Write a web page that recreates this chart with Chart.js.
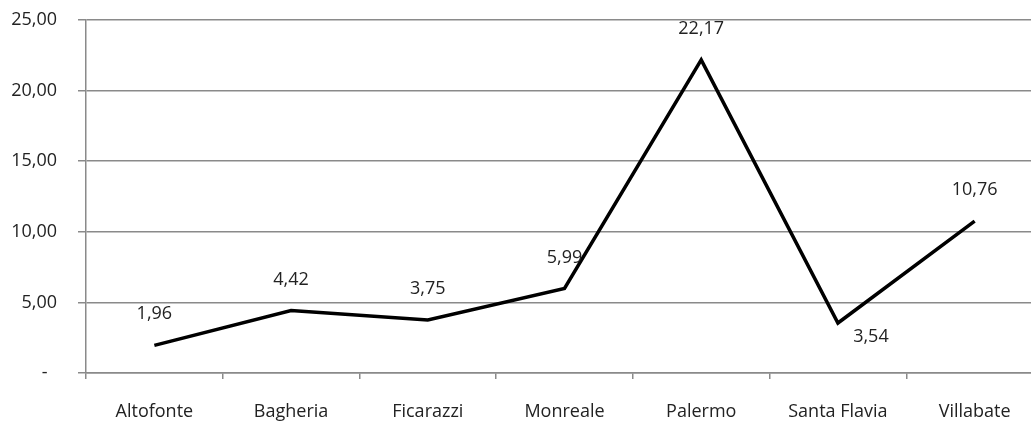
<!DOCTYPE html>
<html>
<head>
<meta charset="utf-8">
<script src="https://cdn.jsdelivr.net/npm/chart.js@4"></script>
<style>
    html, body { margin: 0; padding: 0; background: #fff; overflow: hidden; }
    #wrap { width: 1031px; height: 422px; overflow: hidden; }
</style>
</head>
<body>
<div id="wrap"><canvas id="lineChart" width="1043" height="422"></canvas></div>
<script>
const comuni = ["Altofonte", "Bagheria", "Ficarazzi", "Monreale", "Palermo", "Santa Flavia", "Villabate"];
const valori = [1.96, 4.42, 3.75, 5.99, 22.17, 3.54, 10.76];
const yTicks = [0, 5, 10, 15, 20, 25];

const FONT = "'Open Sans', sans-serif";
const GRID = "#8a8a8a";

function formatIt(v) {
    return v.toFixed(2).replace(".", ",");
}

// etichette dei valori sopra i punti (Santa Flavia sotto, a destra)
const valueLabels = {
    id: "valueLabels",
    afterDatasetsDraw(chart) {
        const ctx = chart.ctx;
        const meta = chart.getDatasetMeta(0);
        ctx.save();
        ctx.font = "18px " + FONT;
        ctx.fillStyle = "#222";
        ctx.textAlign = "center";
        ctx.textBaseline = "middle";
        meta.data.forEach((pt, i) => {
            let dx = 0, dy = -31;
            if (comuni[i] === "Santa Flavia") { dx = 33; dy = 14; }
            ctx.fillText(formatIt(valori[i]), pt.x + dx, pt.y + dy);
        });
        ctx.restore();
    }
};

new Chart(document.getElementById("lineChart").getContext("2d"), {
    type: "line",
    data: {
        labels: comuni,
        datasets: [{
            data: valori,
            borderColor: "#000",
            borderWidth: 3.5,
            pointRadius: 0,
            tension: 0,
            fill: false
        }]
    },
    options: {
        responsive: false,
        animation: false,
        layout: { padding: { top: 20, right: 0, left: 0, bottom: 0 } },
        plugins: {
            legend: { display: false },
            tooltip: { enabled: false }
        },
        scales: {
            x: {
                offset: true,
                grid: { offset: true, drawOnChartArea: false, color: GRID, lineWidth: 1.5, tickLength: 6 },
                border: { color: GRID, width: 1.5 },
                ticks: { color: "#222", padding: 22, font: { family: FONT, size: 18 } },
                afterFit: s => { s.height = 49; s.paddingLeft = 0; s.paddingRight = 0; }
            },
            y: {
                min: 0,
                max: 25,
                afterBuildTicks: s => { s.ticks = yTicks.map(v => ({ value: v })); },
                grid: { color: GRID, lineWidth: 1.5, tickLength: 8 },
                border: { color: GRID, width: 1.5 },
                ticks: {
                    color: "#222",
                    padding: 21,
                    font: { family: FONT, size: 18 },
                    callback: v => v === 0 ? "-  " : formatIt(v)
                },
                afterFit: s => { s.width = 86; s.paddingTop = 0; s.paddingBottom = 0; }
            }
        }
    },
    plugins: [valueLabels]
});
</script>
</body>
</html>
